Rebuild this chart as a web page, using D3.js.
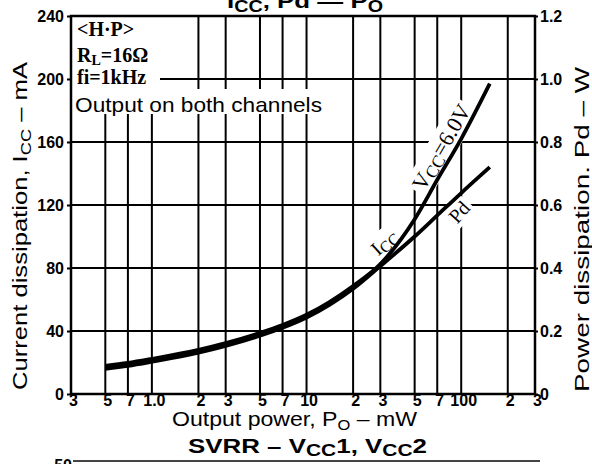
<!DOCTYPE html>
<html>
<head>
<meta charset="utf-8">
<script src="https://cdn.jsdelivr.net/npm/d3@7"></script>
<style>
  body { margin: 0; background: #fff; }
  svg { display: block; }
</style>
</head>
<body>
<div id="chart"></div>
<script>
const outputPower = [0.5, 0.7, 1, 2, 3, 5, 7, 10, 20, 30, 50, 70, 100, 153];
// Current dissipation Icc (mA), left scale
const iccMA = [17.8, 19.7, 22.3, 28, 32.3, 38.8, 43.8, 50.3, 68.6, 82.5, 111, 136, 162, 197];
// Power dissipation Pd (W), right scale
const pdW = [0.08, 0.0895, 0.1025, 0.131, 0.1525, 0.185, 0.21, 0.2425, 0.334, 0.406, 0.5, 0.567, 0.638, 0.72];

// Axis ticks and labels
const xTicks = [0.3, 0.5, 0.7, 1, 2, 3, 5, 7, 10, 20, 30, 50, 70, 100, 200, 300];
const xTickLabels = ["3", "5", "7", "1.0", "2", "3", "5", "7", "10", "2", "3", "5", "7", "100", "2", "3"];
const yTicks = [0, 40, 80, 120, 160, 200, 240];
const yRightTicks = [0, 0.2, 0.4, 0.6, 0.8, 1.0, 1.2];

const svg = d3.select("#chart").append("svg")
    .attr("width", 592)
    .attr("height", 464);

const plotLeft = 71, plotRight = 535, plotTop = 16, plotBottom = 394;

const x = d3.scaleLog().domain([0.3, 300]).range([plotLeft, plotRight]);
const y = d3.scaleLinear().domain([0, 240]).range([plotBottom, plotTop]);
const yR = d3.scaleLinear().domain([0, 1.2]).range([plotBottom, plotTop]);

// Grid lines
const grid = svg.append("g").attr("stroke", "#000").attr("stroke-width", 2);
grid.selectAll(".vg")
    .data(xTicks.slice(1, -1))
    .enter().append("line")
    .attr("x1", d => x(d)).attr("x2", d => x(d))
    .attr("y1", plotTop).attr("y2", plotBottom);
grid.selectAll(".hg")
    .data(yTicks.slice(1, -1))
    .enter().append("line")
    .attr("x1", plotLeft).attr("x2", plotRight)
    .attr("y1", d => y(d)).attr("y2", d => y(d));

// White patches behind the condition text
svg.append("rect").attr("x", plotLeft + 1).attr("y", plotTop + 1).attr("width", 88).attr("height", 72).attr("fill", "#fff");
svg.append("rect").attr("x", plotLeft + 1).attr("y", 89).attr("width", 255).attr("height", 25).attr("fill", "#fff");

// Curve labels (with white background, drawn before the curves)
function curveLabel(cx, cy, angle, parts, size) {
    const g = svg.append("g").attr("transform", `translate(${cx},${cy}) rotate(${angle})`);
    const bg = g.append("rect").attr("fill", "#fff");
    const t = g.append("text")
        .attr("text-anchor", "middle")
        .attr("dy", "0.35em")
        .attr("font-family", "'Liberation Serif', serif")
        .attr("font-size", size);
    parts.forEach(p => {
        const s = t.append("tspan").text(p.t);
        if (p.sub) s.attr("font-size", size * 0.8).attr("dy", 3);
        if (p.back) s.attr("dy", -3);
    });
    const b = t.node().getBBox();
    bg.attr("x", b.x - 3).attr("y", b.y - 1).attr("width", b.width + 6).attr("height", b.height + 2);
}
curveLabel(441, 147, -60, [{t: "V"}, {t: "CC", sub: true}, {t: "=6.0V", back: true}], 22);
curveLabel(384, 242, -42, [{t: "I"}, {t: "CC", sub: true}], 20);
curveLabel(459, 212, -48, [{t: "Pd"}], 20);

// Frame
svg.append("rect")
    .attr("x", plotLeft).attr("y", plotTop)
    .attr("width", plotRight - plotLeft).attr("height", plotBottom - plotTop)
    .attr("fill", "none").attr("stroke", "#000").attr("stroke-width", 2.5);

// Curves
const iccLine = d3.line()
    .x((d, i) => x(outputPower[i]))
    .y(d => y(d))
    .curve(d3.curveMonotoneX);
const pdLine = d3.line()
    .x((d, i) => x(outputPower[i]))
    .y(d => yR(d))
    .curve(d3.curveMonotoneX);

svg.append("path").datum(iccMA)
    .attr("fill", "none").attr("stroke", "#000").attr("stroke-width", 3.8)
    .attr("d", iccLine);
svg.append("path").datum(pdW)
    .attr("fill", "none").attr("stroke", "#000").attr("stroke-width", 3.8)
    .attr("d", pdLine);

// Axes
const tickFont = g => g.selectAll("text")
    .attr("font-family", "'Liberation Sans', Arial, sans-serif")
    .attr("font-weight", "bold")
    .attr("font-size", 16)
    .attr("fill", "#000");

const xAxis = svg.append("g")
    .attr("transform", `translate(0,${plotBottom})`)
    .call(d3.axisBottom(x).tickValues(xTicks).tickFormat((d, i) => xTickLabels[i]).tickSize(0).tickPadding(1))
    .call(tickFont);
xAxis.select(".domain").remove();
xAxis.selectAll("text").attr("dx", 2);

const yAxis = svg.append("g")
    .attr("transform", `translate(${plotLeft},0)`)
    .call(d3.axisLeft(y).tickValues(yTicks).tickSize(4).tickPadding(3))
    .call(tickFont);
yAxis.select(".domain").remove();
yAxis.selectAll("line").attr("stroke-width", 2);

const yAxisR = svg.append("g")
    .attr("transform", `translate(${plotRight},0)`)
    .call(d3.axisRight(yR).tickValues(yRightTicks).tickFormat(d => d === 0 ? "0" : d3.format(".1f")(d)).tickSize(3).tickPadding(2))
    .call(tickFont);
yAxisR.select(".domain").remove();
yAxisR.selectAll("line").attr("stroke-width", 2);

// Condition text
const serifBold = sel => sel
    .attr("font-family", "'Liberation Serif', serif")
    .attr("font-weight", "bold")
    .attr("font-size", 20);
svg.append("text").attr("x", 77).attr("y", 36).call(serifBold).text("<H·P>");
const rl = svg.append("text").attr("x", 77).attr("y", 62).call(serifBold);
rl.append("tspan").text("R");
rl.append("tspan").attr("font-size", 14).attr("dy", 3).text("L");
rl.append("tspan").attr("dy", -3).text("=16Ω");
svg.append("text").attr("x", 77).attr("y", 84).call(serifBold).text("fi=1kHz");

svg.append("text")
    .attr("x", 75).attr("y", 112)
    .attr("font-family", "'Liberation Sans', Arial, sans-serif")
    .attr("font-size", 21)
    .attr("textLength", 247)
    .attr("lengthAdjust", "spacingAndGlyphs")
    .text("Output on both channels");

// Axis titles
const sans = "'Liberation Sans', Arial, sans-serif";
const xt = svg.append("text")
    .attr("x", 172).attr("y", 426)
    .attr("font-family", sans).attr("font-size", 21)
    .attr("textLength", 245).attr("lengthAdjust", "spacingAndGlyphs");
xt.append("tspan").text("Output power, P");
xt.append("tspan").attr("font-size", 15).attr("dy", 4).text("O");
xt.append("tspan").attr("dy", -4).text(" – mW");

const yt = svg.append("text")
    .attr("transform", "rotate(-90)")
    .attr("x", -390).attr("y", 27)
    .attr("font-family", sans).attr("font-size", 21)
    .attr("textLength", 328).attr("lengthAdjust", "spacingAndGlyphs");
yt.append("tspan").text("Current dissipation, I");
yt.append("tspan").attr("font-size", 15).attr("dy", 4).text("CC");
yt.append("tspan").attr("dy", -4).text(" – mA");

svg.append("text")
    .attr("transform", "rotate(-90)")
    .attr("x", -392).attr("y", 589)
    .attr("font-family", sans).attr("font-size", 21)
    .attr("textLength", 325).attr("lengthAdjust", "spacingAndGlyphs")
    .text("Power dissipation. Pd – W");

// Titles (top one cut by the page edge, bottom one belongs to next chart)
const titleFont = sel => sel
    .attr("font-family", sans).attr("font-weight", "bold").attr("font-size", 21)
    .attr("lengthAdjust", "spacingAndGlyphs");
const t1 = svg.append("text").attr("x", 227).attr("y", 8).attr("textLength", 156).call(titleFont);
t1.append("tspan").text("I");
t1.append("tspan").attr("font-size", 16).attr("dy", 4).text("CC");
t1.append("tspan").attr("dy", -4).text(", Pd  —  P");
t1.append("tspan").attr("font-size", 16).attr("dy", 4).text("O");

const t2 = svg.append("text").attr("x", 188).attr("y", 453).attr("textLength", 239).call(titleFont);
t2.append("tspan").text("SVRR  –  V");
t2.append("tspan").attr("font-size", 17).attr("dy", 3).text("CC");
t2.append("tspan").attr("dy", -3).text("1, V");
t2.append("tspan").attr("font-size", 17).attr("dy", 3).text("CC");
t2.append("tspan").attr("dy", -3).text("2");

// Top edge of the next chart
svg.append("line")
    .attr("x1", 73).attr("x2", 540).attr("y1", 461).attr("y2", 461)
    .attr("stroke", "#444").attr("stroke-width", 2);
svg.append("text")
    .attr("x", 72).attr("y", 471).attr("text-anchor", "end")
    .attr("font-family", sans).attr("font-weight", "bold").attr("font-size", 16)
    .text("-50");
</script>
</body>
</html>
